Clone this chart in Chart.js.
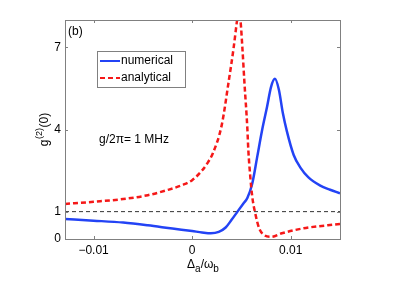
<!DOCTYPE html>
<html>
<head>
<meta charset="utf-8">
<script src="https://cdn.jsdelivr.net/npm/chart.js@4/dist/chart.umd.min.js"></script>
<style>
  body { margin: 0; background: #fff; }
  canvas { display: block; }
</style>
</head>
<body>
<canvas id="grafico" width="403" height="290"></canvas>
<script>
// datos
const xTicks = [-0.01, 0, 0.01];
const yTicks = [0, 1, 4, 7];
const xMin = -0.0129, xMax = 0.0150;
const yMin = 0, yMax = 8;

const numX = [-0.0129, -0.01, -0.007, -0.0045, -0.002, 0, 0.001, 0.0019, 0.0027, 0.0034, 0.004, 0.0046, 0.0052, 0.0056, 0.0061, 0.0066, 0.0071, 0.0076, 0.008, 0.0084, 0.0088, 0.0092, 0.0096, 0.0103, 0.011, 0.0118, 0.013, 0.014, 0.015];
const numY = [0.73, 0.67, 0.6, 0.5, 0.38, 0.29, 0.24, 0.21, 0.26, 0.42, 0.7, 1.0, 1.3, 1.5, 2.03, 3.0, 3.98, 4.83, 5.55, 5.85, 5.45, 4.6, 3.95, 3.07, 2.6, 2.25, 1.95, 1.8, 1.67];

const anaX = [-0.0129, -0.01, -0.007, -0.0045, -0.0025, -0.001, 0, 0.001, 0.0016, 0.0021, 0.003, 0.0037, 0.0042, 0.0046, 0.0047, 0.0049, 0.0051, 0.0053, 0.0056, 0.0057, 0.0059, 0.0061, 0.0064, 0.0068, 0.0073, 0.008, 0.0091, 0.0113, 0.015];
const anaY = [1.28, 1.36, 1.46, 1.6, 1.79, 1.97, 2.15, 2.5, 2.8, 3.13, 4.16, 5.74, 6.96, 8.1, 8.3, 8.0, 6.96, 5.74, 4.04, 3.25, 2.27, 1.54, 0.94, 0.39, 0.15, 0.08, 0.21, 0.39, 0.55];

const refX = [xMin, xMax];
const refY = [1, 1];

const seriesNames = ['numerical', 'analytical'];

const fuente = '"Liberation Sans", Arial, sans-serif';

function puntos(xs, ys) {
    return xs.map((x, i) => ({ x: x, y: ys[i] }));
}

// marco, ticks hacia dentro, textos y leyenda
const decoracion = {
    id: 'decoracion',
    afterDraw(chart) {
        let ctx = chart.ctx;
        let a = chart.chartArea;
        let sx = chart.scales.x, sy = chart.scales.y;
        ctx.save();
        ctx.strokeStyle = '#808080';
        ctx.lineWidth = 1;
        ctx.strokeRect(a.left + 0.5, a.top + 0.5, a.right - a.left, a.bottom - a.top);
        ctx.beginPath();
        xTicks.forEach(v => {
            let px = Math.round(sx.getPixelForValue(v)) + 0.5;
            ctx.moveTo(px, a.bottom); ctx.lineTo(px, a.bottom - 3);
            ctx.moveTo(px, a.top); ctx.lineTo(px, a.top + 3);
        });
        yTicks.forEach(v => {
            let py = Math.round(sy.getPixelForValue(v)) + 0.5;
            ctx.moveTo(a.left, py); ctx.lineTo(a.left + 3, py);
            ctx.moveTo(a.right, py); ctx.lineTo(a.right - 3, py);
        });
        ctx.stroke();

        ctx.fillStyle = '#000';
        ctx.font = '12px ' + fuente;
        ctx.textBaseline = 'middle';
        ctx.textAlign = 'left';
        ctx.fillText('(b)', a.left + 3, a.top + 12);
        ctx.fillText('g/2\u03c0= 1 MHz', a.left + 34, 140);

        // leyenda
        let lx = 97, ly = 51, lw = 88, lh = 36;
        ctx.fillStyle = '#fff';
        ctx.fillRect(lx, ly, lw, lh);
        ctx.strokeStyle = '#808080';
        ctx.strokeRect(lx + 0.5, ly + 0.5, lw, lh);
        chart.data.datasets.slice(0, 2).forEach((ds, i) => {
            let yy = ly + 10 + i * 17;
            ctx.beginPath();
            ctx.strokeStyle = ds.borderColor;
            ctx.lineWidth = 2;
            ctx.setLineDash(ds.borderDash || []);
            ctx.moveTo(lx + 3, yy); ctx.lineTo(lx + 23, yy);
            ctx.stroke();
            ctx.setLineDash([]);
            ctx.fillStyle = '#000';
            ctx.fillText(seriesNames[i], lx + 24, yy);
        });

        // etiqueta eje y: g^(2)(0)
        ctx.save();
        ctx.translate(44, 130);
        ctx.rotate(-Math.PI / 2);
        ctx.textBaseline = 'alphabetic';
        ctx.font = '12px ' + fuente;
        let w1 = ctx.measureText('g').width;
        ctx.font = '9px ' + fuente;
        let w2 = ctx.measureText('(2)').width;
        ctx.font = '12px ' + fuente;
        let w3 = ctx.measureText('(0)').width;
        let x0 = -(w1 + w2 + w3) / 2;
        ctx.fillText('g', x0, 4);
        ctx.font = '9px ' + fuente;
        ctx.fillText('(2)', x0 + w1 + 0.5, -2);
        ctx.font = '12px ' + fuente;
        ctx.fillText('(0)', x0 + w1 + w2 + 1, 4);
        ctx.restore();

        // etiqueta eje x: Delta_a / omega_b
        ctx.textBaseline = 'alphabetic';
        let partes = [['\u0394', 12, 0], ['a', 10, 4], ['/\u03c9', 12, 0], ['b', 10, 4]];
        let total = 0;
        partes.forEach(p => { ctx.font = p[1] + 'px ' + fuente; total += ctx.measureText(p[0]).width; });
        let cx = 203 - total / 2;
        partes.forEach(p => {
            ctx.font = p[1] + 'px ' + fuente;
            ctx.fillText(p[0], cx, 268 + p[2]);
            cx += ctx.measureText(p[0]).width;
        });
        ctx.restore();
    }
};

new Chart(document.getElementById('grafico').getContext('2d'), {
    type: 'line',
    data: {
        datasets: [{
            label: seriesNames[0],
            data: puntos(numX, numY),
            borderColor: '#2343f5',
            borderWidth: 2.5,
            pointRadius: 0,
            cubicInterpolationMode: 'monotone',
            order: 2
        }, {
            label: seriesNames[1],
            data: puntos(anaX, anaY),
            borderColor: '#f51818',
            borderWidth: 2.5,
            borderDash: [5, 3],
            pointRadius: 0,
            cubicInterpolationMode: 'monotone',
            order: 1
        }, {
            label: 'ref',
            data: puntos(refX, refY),
            borderColor: '#333',
            borderWidth: 1,
            borderDash: [4, 3],
            pointRadius: 0,
            order: 3
        }]
    },
    options: {
        responsive: false,
        animation: false,
        layout: { padding: { left: 0, top: 20, right: 63, bottom: 0 } },
        plugins: { legend: { display: false }, tooltip: { enabled: false } },
        scales: {
            x: {
                type: 'linear',
                min: xMin, max: xMax,
                grid: { display: false, drawTicks: false },
                border: { display: false },
                afterBuildTicks: s => { s.ticks = xTicks.map(v => ({ value: v })); },
                afterFit: s => { s.height = 51; },
                ticks: {
                    padding: 4,
                    color: '#000',
                    font: { family: fuente, size: 12 },
                    callback: v => v === 0 ? '0' : (v < 0 ? '\u2212' : '') + Math.abs(v).toFixed(2)
                }
            },
            y: {
                min: yMin, max: yMax,
                grid: { display: false, drawTicks: false },
                border: { display: false },
                afterBuildTicks: s => { s.ticks = yTicks.map(v => ({ value: v })); },
                afterFit: s => { s.width = 65; },
                ticks: {
                    padding: 4,
                    color: '#000',
                    font: { family: fuente, size: 12 }
                }
            }
        }
    },
    plugins: [decoracion]
});
</script>
</body>
</html>
